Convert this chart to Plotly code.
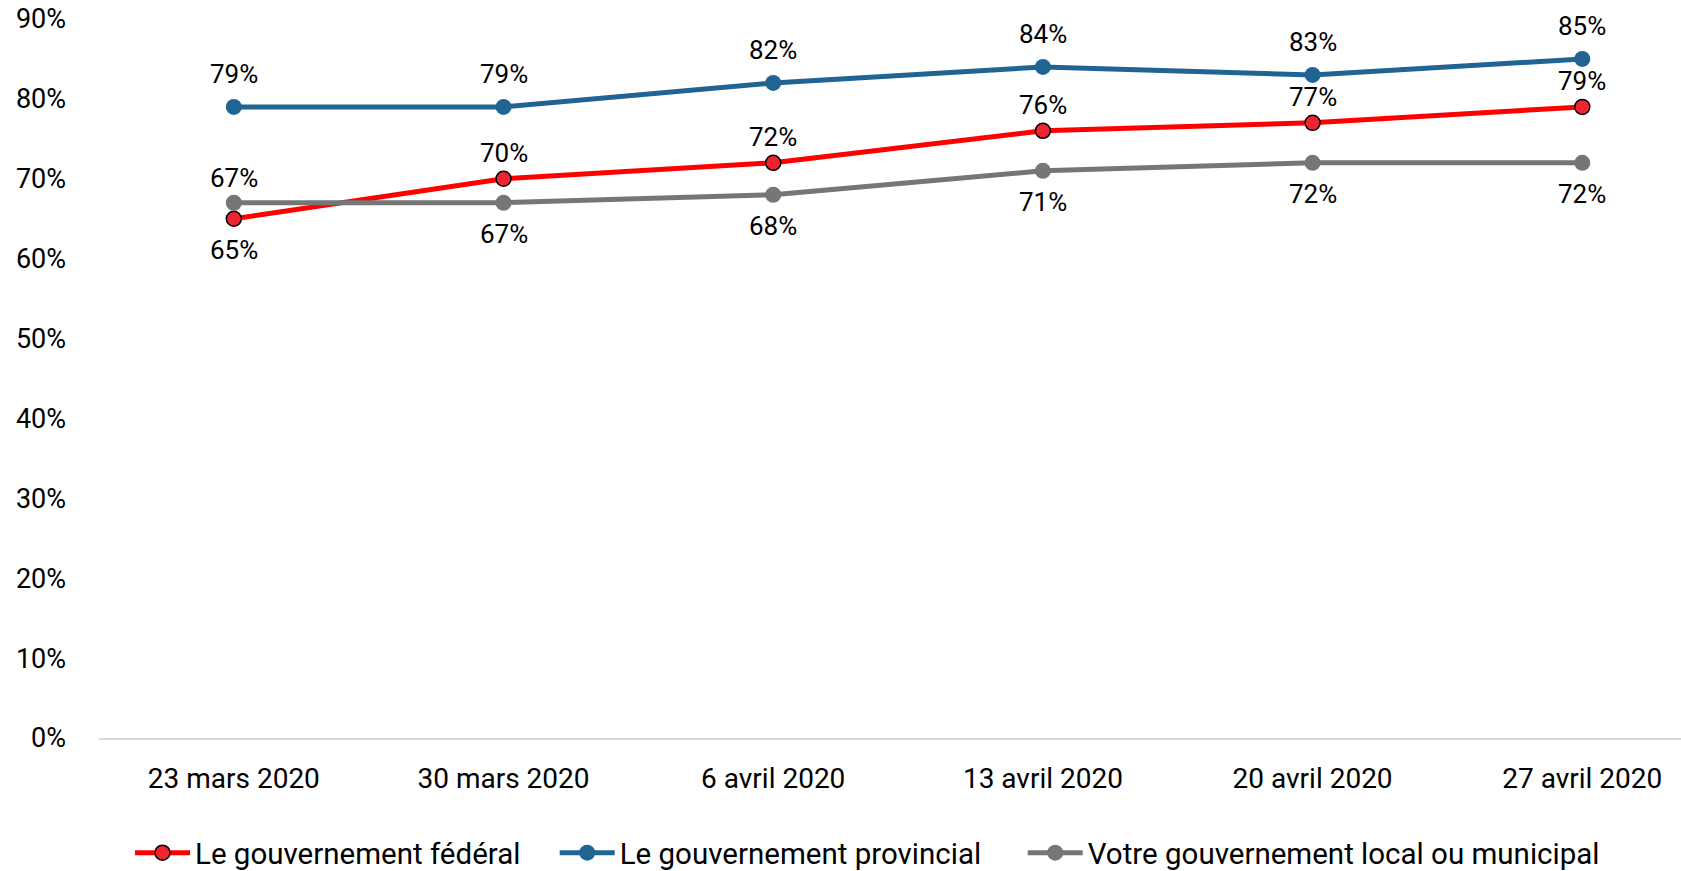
import plotly.graph_objects as go

dates = ["23 mars 2020", "30 mars 2020", "6 avril 2020", "13 avril 2020", "20 avril 2020", "27 avril 2020"]
federal = [0.65, 0.70, 0.72, 0.76, 0.77, 0.79]
provincial = [0.79, 0.79, 0.82, 0.84, 0.83, 0.85]
municipal = [0.67, 0.67, 0.68, 0.71, 0.72, 0.72]
series_names = ["Le gouvernement fédéral", "Le gouvernement provincial", "Votre gouvernement local ou municipal"]
y_ticks = [0, 0.1, 0.2, 0.3, 0.4, 0.5, 0.6, 0.7, 0.8, 0.9]

# label placement (style): vertical pixel shift of each data label
shift_federal = [-31, 26, 26, 26, 26, 26]
shift_provincial = [33, 33, 33, 33, 33, 33]
shift_municipal = [25, -31, -31, -31, -31, -31]
legend_pads = [4, 5, 0]

FONT = "Roboto"
fig = go.Figure()
annotations = []

def add(name, vals, color, marker, shifts, pad):
    fig.add_trace(go.Scatter(
        x=dates, y=vals, name=name + "\u00a0" * pad, mode="lines+markers",
        line=dict(color=color, width=5),
        marker=marker,
        cliponaxis=False,
    ))
    for d, v, s in zip(dates, vals, shifts):
        annotations.append(dict(
            x=d, y=v, xref="x", yref="y", text=f"{round(v*100)}%",
            showarrow=False, yshift=s, xanchor="center", yanchor="middle",
            font=dict(family=FONT, size=26, color="black"),
        ))

add(series_names[0], federal, "#FF0000",
    dict(size=15, color="#EE2530", line=dict(color="black", width=1.5)),
    shift_federal, legend_pads[0])
add(series_names[1], provincial, "#216392",
    dict(size=16, color="#216392"), shift_provincial, legend_pads[1])
add(series_names[2], municipal, "#767676",
    dict(size=16, color="#767676"), shift_municipal, legend_pads[2])

fig.update_layout(
    width=1681, height=871,
    margin=dict(l=99, r=0, t=19, b=133, autoexpand=False),
    plot_bgcolor="white", paper_bgcolor="white",
    font=dict(family=FONT, size=27, color="black"),
    showlegend=True,
    legend=dict(orientation="h", xref="container", yref="container",
                x=130 / 1681, xanchor="left", y=18 / 871, yanchor="middle",
                font=dict(family=FONT, size=29.5, color="black"),
                itemwidth=55, bgcolor="rgba(0,0,0,0)"),
    annotations=annotations,
)
fig.update_xaxes(
    type="category", range=[-0.5, 5.366], automargin=False,
    showgrid=False, zeroline=False,
    showline=True, linecolor="#D9D9D9", linewidth=2,
    ticks="", ticklabelstandoff=14,
    tickfont=dict(family=FONT, size=28, color="black"),
)
fig.update_yaxes(
    range=[0, 0.9], tickvals=y_ticks, tickformat=".0%", automargin=False,
    showgrid=False, zeroline=False, showline=False,
    ticks="", ticklabelstandoff=32, ticklabeloverflow="allow",
    tickfont=dict(family=FONT, size=27, color="black"),
)

# remove the default 8px page margin so the figure fills the window exactly
fig.write_html("out.html", config={"displayModeBar": False},
               post_script="document.body.style.margin='0px';")
